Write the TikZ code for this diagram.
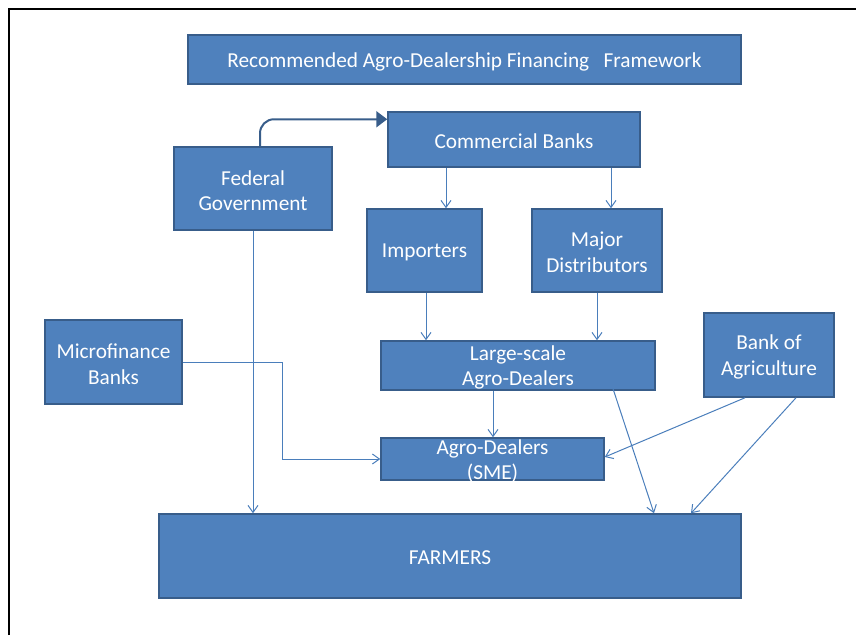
\documentclass[tikz,border=0pt]{standalone}
\usepackage{fontspec}
\setmainfont{Carlito}
\usetikzlibrary{arrows.meta}
\definecolor{boxfill}{HTML}{4F81BD}
\definecolor{boxline}{HTML}{385D8A}
\definecolor{conncol}{HTML}{4A7EBB}
\begin{document}
\begin{tikzpicture}[x=1pt,y=-1pt,
  box/.style={draw=boxline, line width=1.5pt, fill=boxfill,
    rectangle, inner sep=0pt},
  lbl/.style={text=white, align=center, inner sep=0pt, yshift=-2pt,
    font=\fontsize{21.3}{25.6}\selectfont},
  conn/.style={draw=conncol, line width=1pt,
    -{Straight Barb[length=7pt,width=10pt,line width=1pt]}},
]
\useasboundingbox (0,0) rectangle (856,635);
\draw[line width=1.7pt] (9,635) -- (9,9) -- (856,9);

\node[box, minimum width=553pt, minimum height=49pt] (title) at (464.5,59.5) {};
\node[lbl] (titlet) at (title) {Recommended Agro-Dealership Financing\ \ \ Framework};
\node[box, minimum width=252pt, minimum height=55pt] (cb) at (514,139.5) {};
\node[lbl] (cbt) at (cb) {Commercial Banks};
\node[box, minimum width=158pt, minimum height=83pt] (fg) at (253,188.5) {};
\node[lbl] (fgt) at (fg) {Federal\\Government};
\node[box, minimum width=115pt, minimum height=83pt] (imp) at (424.5,250.5) {};
\node[lbl] (impt) at (imp) {Importers};
\node[box, minimum width=130pt, minimum height=83pt] (md) at (597,250.5) {};
\node[lbl] (mdt) at (md) {Major\\Distributors};
\node[box, minimum width=137pt, minimum height=84pt] (mb) at (113.5,362) {};
\node[lbl] (mbt) at (mb) {Microfinance\\Banks};
\node[box, minimum width=274pt, minimum height=49pt] (lsad) at (518,365.5) {};
\node[lbl] (lsadt) at (lsad) {Large-scale\\Agro-Dealers};
\node[box, minimum width=130pt, minimum height=84pt] (boa) at (769,355) {};
\node[lbl] (boat) at (boa) {Bank of\\Agriculture};
\node[box, minimum width=223pt, minimum height=42pt] (sme) at (492.5,459) {};
\node[lbl] (smet) at (sme) {Agro-Dealers\\(SME)};
\node[box, minimum width=582pt, minimum height=84pt] (farm) at (450,556) {};
\node[lbl] (farmt) at (farm) {FARMERS};

% Federal Government -> Commercial Banks
\draw[draw=boxline, line width=2pt, rounded corners=14pt,
  -{Triangle[length=11pt,width=16pt]}]
  ([xshift=7pt]fg.north) |- ([yshift=-8pt]cb.north west);

\draw[conn] (fg.south) -- (fg.south |- farm.north);
\draw[conn] (mb.east) -- ++(100,0) |- (sme.west);
\draw[conn] (446,0 |- cb.south) -- (446,0 |- imp.north);
\draw[conn] (611,0 |- cb.south) -- (611,0 |- md.north);
\draw[conn] (426,0 |- imp.south) -- (426,0 |- lsad.north);
\draw[conn] (597,0 |- md.south) -- (597,0 |- lsad.north);
\draw[conn] (493,0 |- lsad.south) -- (493,0 |- sme.north);
\draw[conn] ([yshift=2pt]613,0 |- lsad.south) -- (654,0 |- farm.north);
\draw[conn] (745,0 |- boa.south) -- ([yshift=2pt]sme.east);
\draw[conn] (796,0 |- boa.south) -- (691,0 |- farm.north);
\end{tikzpicture}
\end{document}
